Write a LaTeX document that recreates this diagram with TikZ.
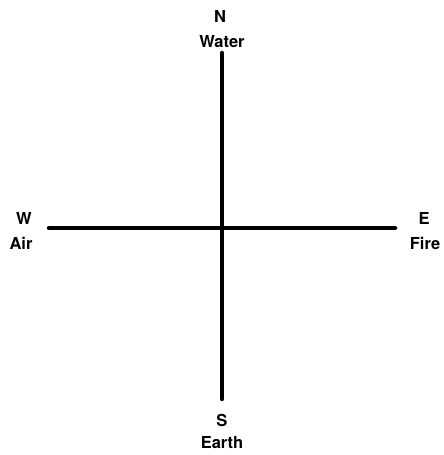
\documentclass[tikz,border=0pt]{standalone}
\usepackage{fontspec}
\setmainfont{TeX Gyre Heros}
\begin{document}
\begin{tikzpicture}[x=1pt,y=1pt,
  axis/.style={line width=4.5pt, line cap=round},
  lbl/.style={font=\bfseries\fontsize{16.5}{18}\selectfont, inner sep=0pt}]
\useasboundingbox (0,0) rectangle (444,455);
\coordinate (ntop) at (222,402);
\coordinate (sbot) at (222,56);
\coordinate (wend) at (49,227);
\coordinate (eend) at (395,227);
\draw[axis] (ntop) -- (sbot);
\draw[axis] (wend) -- (eend);
\node[lbl] (n) at (220,439) {N};
\node[lbl] (water) at (222,413) {Water};
\node[lbl] (w) at (24,237) {W};
\node[lbl] (air) at (21,212) {Air};
\node[lbl] (e) at (424,237) {E};
\node[lbl] (fire) at (425,212) {Fire};
\node[lbl] (s) at (222,35) {S};
\node[lbl] (earth) at (222,12) {Earth};
\end{tikzpicture}
\end{document}
